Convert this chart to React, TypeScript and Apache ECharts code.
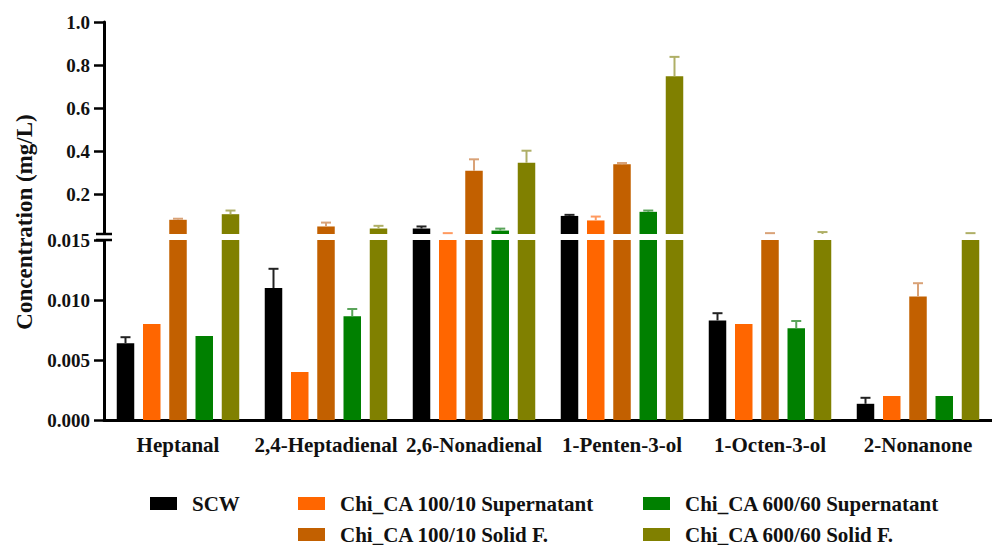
import React, { useEffect, useRef } from 'react';
import * as echarts from 'echarts';

const categories = ['Heptanal', '2,4-Heptadienal', '2,6-Nonadienal', '1-Penten-3-ol', '1-Octen-3-ol', '2-Nonanone'];
const seriesNames = [
  'SCW',
  'Chi_CA 100/10 Supernatant',
  'Chi_CA 100/10 Solid F.',
  'Chi_CA 600/60 Supernatant',
  'Chi_CA 600/60 Solid F.',
];
const scwMean = [0.0064, 0.011, 0.0405, 0.099, 0.0083, 0.00135];
const scwSd = [0.0005, 0.0016, 0.0095, 0.005, 0.0006, 0.0005];
const sup100Mean = [0.008, 0.004, 0.015, 0.078, 0.008, 0.002];
const sup100Sd = [0, 0, 0.004, 0.018, 0, 0];
const solid100Mean = [0.081, 0.05, 0.309, 0.339, 0.015, 0.0103];
const solid100Sd = [0.005, 0.018, 0.053, 0.006, 0.004, 0.0011];
const sup600Mean = [0.007, 0.00865, 0.031, 0.118, 0.00765, 0.002];
const sup600Sd = [0, 0.0006, 0.009, 0.006, 0.0006, 0];
const solid600Mean = [0.107, 0.0405, 0.346, 0.748, 0.015, 0.015];
const solid600Sd = [0.017, 0.0125, 0.056, 0.09, 0.009, 0.004];

const lowerTicks = [0, 0.005, 0.01, 0.015];
const upperTicks = [0.2, 0.4, 0.6, 0.8, 1.0];
const BREAK = 0.015;
const TOP_MAX = 1.0;

const means = [scwMean, sup100Mean, solid100Mean, sup600Mean, solid600Mean];
const sds = [scwSd, sup100Sd, solid100Sd, sup600Sd, solid600Sd];
const colors = ['#000000', '#FF6600', '#C26000', '#008000', '#808000'];
const errColors = ['#222222', '#FF9a60', '#D9A277', '#5aa45a', '#AFAF66'];

const FONT = 'Times New Roman, Liberation Serif, DejaVu Serif, serif';
const BAR_W = 17.5;
const BAR_GAP = 0.5;
const PITCH = BAR_W * (1 + BAR_GAP);

export default function App() {
  const ref = useRef<HTMLDivElement>(null);
  useEffect(() => {
    if (!ref.current) return;
    const chart = echarts.init(ref.current, null, { renderer: 'svg' });

    const grids = [
      { left: 104, width: 902, top: 240, height: 180 },
      { left: 104, width: 902, top: 22, height: 212 },
    ];

    const barSeries: any[] = [];
    seriesNames.forEach((name, s) => {
      barSeries.push({
        name,
        type: 'bar',
        xAxisIndex: 0,
        yAxisIndex: 0,
        barWidth: BAR_W,
        barGap: BAR_GAP * 100 + '%',
        itemStyle: { color: colors[s] },
        data: means[s].map((v) => Math.min(v, BREAK)),
      });
      barSeries.push({
        name,
        type: 'bar',
        xAxisIndex: 1,
        yAxisIndex: 1,
        barWidth: BAR_W,
        barGap: BAR_GAP * 100 + '%',
        itemStyle: { color: colors[s] },
        data: means[s].map((v) => (v > BREAK ? v : '-')),
      });
    });

    const errData: any[] = [];
    seriesNames.forEach((_, s) => {
      categories.forEach((_c, i) => {
        errData.push([i, s, means[s][i], sds[s][i]]);
      });
    });

    const makeErr = (lo: number, hi: number) => (params: any, api: any) => {
      const cat = api.value(0);
      const s = api.value(1);
      const m = api.value(2);
      const sd = api.value(3);
      if (!sd) return null;
      const top = m + sd;
      if (top <= lo || m >= hi) return null;
      const a = Math.max(m, lo);
      const b = Math.min(top, hi);
      const p0 = api.coord([cat, a]);
      const p1 = api.coord([cat, b]);
      const x = p0[0] + (s - 2) * PITCH;
      const stroke = errColors[s];
      const children: any[] = [
        { type: 'line', shape: { x1: x, y1: p0[1], x2: x, y2: p1[1] }, style: { stroke, lineWidth: 2 } },
      ];
      if (top <= hi) {
        children.push({
          type: 'line',
          shape: { x1: x - 5, y1: p1[1], x2: x + 5, y2: p1[1] },
          style: { stroke, lineWidth: 2 },
        });
      }
      return { type: 'group', children };
    };

    const axisLabelStyle = { color: '#111', fontFamily: FONT, fontWeight: 'bold', fontSize: 19 };
    const legendText = { fontFamily: FONT, fontWeight: 'bold', fontSize: 21, color: '#111', padding: [0, 0, 0, 10] };

    chart.setOption({
      animation: false,
      textStyle: { fontFamily: FONT },
      grid: grids,
      xAxis: [
        {
          type: 'category',
          gridIndex: 0,
          data: categories,
          axisLine: { lineStyle: { color: '#000', width: 3 } },
          axisTick: { alignWithLabel: true, length: 10, lineStyle: { color: '#000', width: 2.5 } },
          axisLabel: { interval: 0, margin: 14, color: '#111', fontFamily: FONT, fontWeight: 'bold', fontSize: 21 },
        },
        {
          type: 'category',
          gridIndex: 1,
          data: categories,
          show: false,
        },
      ],
      yAxis: [
        {
          type: 'value',
          gridIndex: 0,
          min: 0,
          max: BREAK,
          interval: 0.005,
          splitLine: { show: false },
          axisLine: { show: true, lineStyle: { color: '#000', width: 3 } },
          axisTick: { show: true, length: 10, lineStyle: { color: '#000', width: 2.5 } },
          axisLabel: {
            ...axisLabelStyle,
            margin: 14,
            customValues: lowerTicks,
            formatter: (v: number) => v.toFixed(3),
          },
        },
        {
          type: 'value',
          gridIndex: 1,
          min: BREAK,
          max: TOP_MAX,
          splitLine: { show: false },
          axisLine: { show: true, lineStyle: { color: '#000', width: 3 } },
          axisTick: { show: true, length: 10, customValues: upperTicks, lineStyle: { color: '#000', width: 2.5 } },
          axisLabel: {
            ...axisLabelStyle,
            margin: 14,
            customValues: upperTicks,
            formatter: (v: number) => v.toFixed(1),
          },
        },
      ],
      legend: [
        {
          data: [seriesNames[0]],
          left: 150,
          top: 493,
          padding: 0,
          icon: 'rect',
          itemWidth: 27,
          itemHeight: 13,
          textStyle: legendText,
        },
        {
          data: [seriesNames[1], seriesNames[2]],
          orient: 'vertical',
          left: 298,
          top: 493,
          padding: 0,
          itemGap: 10,
          icon: 'rect',
          itemWidth: 27,
          itemHeight: 13,
          textStyle: legendText,
        },
        {
          data: [seriesNames[3], seriesNames[4]],
          orient: 'vertical',
          left: 643,
          top: 493,
          padding: 0,
          itemGap: 10,
          icon: 'rect',
          itemWidth: 27,
          itemHeight: 13,
          textStyle: legendText,
        },
      ],
      graphic: [
        {
          type: 'text',
          x: 24,
          y: 222,
          rotation: Math.PI / 2,
          style: {
            text: 'Concentration (mg/L)',
            fontFamily: FONT,
            fontWeight: 'bold',
            fontSize: 23,
            fill: '#111',
            align: 'center',
            verticalAlign: 'middle',
          },
        },
        { type: 'rect', shape: { x: 100, y: 235, width: 10, height: 4 }, style: { fill: '#fff' }, z: 100 },
        { type: 'line', shape: { x1: 96, y1: 234, x2: 112, y2: 234 }, style: { stroke: '#000', lineWidth: 2.5 }, z: 101 },
        { type: 'line', shape: { x1: 96, y1: 240, x2: 112, y2: 240 }, style: { stroke: '#000', lineWidth: 2.5 }, z: 101 },
      ],
      series: [
        ...barSeries,
        {
          type: 'custom',
          name: 'err-low',
          xAxisIndex: 0,
          yAxisIndex: 0,
          renderItem: makeErr(0, BREAK),
          encode: { x: 0, y: [2, 3] },
          data: errData,
          z: 5,
        },
        {
          type: 'custom',
          name: 'err-high',
          xAxisIndex: 1,
          yAxisIndex: 1,
          renderItem: makeErr(BREAK, TOP_MAX),
          encode: { x: 0, y: [2, 3] },
          data: errData,
          z: 5,
        },
      ],
    });
    return () => chart.dispose();
  }, []);
  return <div ref={ref} style={{ width: 992, height: 545, position: 'absolute', left: 0, top: 0 }} />;
}
